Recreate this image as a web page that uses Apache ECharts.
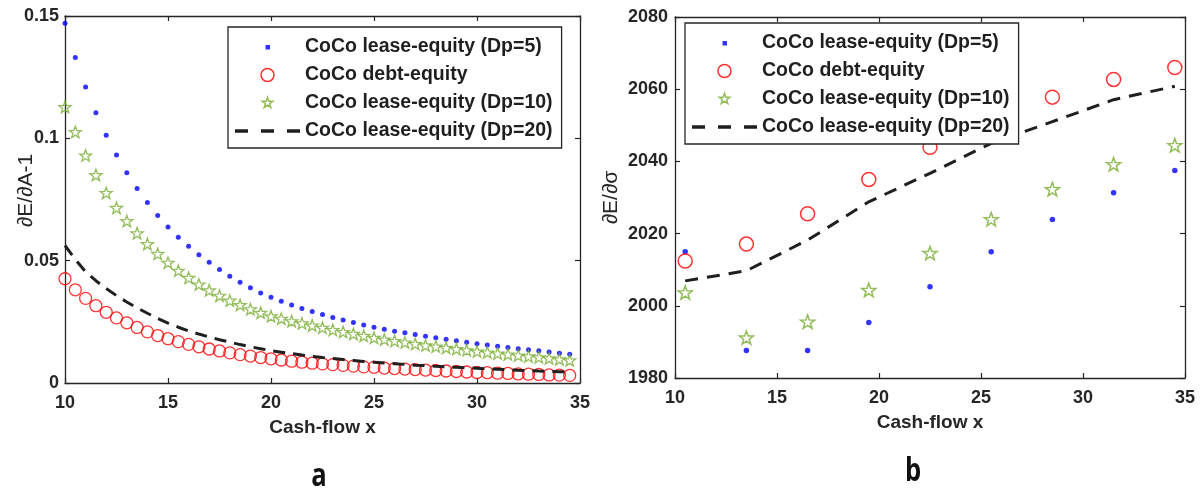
<!DOCTYPE html>
<html>
<head>
<meta charset="utf-8">
<script src="https://cdn.jsdelivr.net/npm/echarts@6/dist/echarts.min.js"></script>
<style>html,body{margin:0;padding:0;background:#fff;}#c{width:1202px;height:490px;}</style>
</head>
<body>
<div id="c"></div>
<script>
// ---------- data ----------
const namesLegend = ['CoCo lease-equity (Dp=5)', 'CoCo debt-equity', 'CoCo lease-equity (Dp=10)', 'CoCo lease-equity (Dp=20)'];
const panelLabels = ['a', 'b'];
const xAxisName = 'Cash-flow x';
const yAxisNames = ['∂E/∂A-1', '∂E/∂σ'];

// panel a
const xA = [10, 10.5, 11, 11.5, 12, 12.5, 13, 13.5, 14, 14.5, 15, 15.5, 16, 16.5, 17, 17.5, 18, 18.5, 19, 19.5,
  20, 20.5, 21, 21.5, 22, 22.5, 23, 23.5, 24, 24.5, 25, 25.5, 26, 26.5, 27, 27.5, 28, 28.5, 29, 29.5,
  30, 30.5, 31, 31.5, 32, 32.5, 33, 33.5, 34, 34.5];
const leaseDp5A = [0.147, 0.133, 0.121, 0.1105, 0.1013, 0.0932, 0.0859, 0.0795, 0.0738, 0.0685, 0.0638, 0.0596, 0.0559, 0.0524, 0.0494, 0.0464, 0.0436, 0.0412, 0.0389, 0.0368,
  0.0350, 0.0334, 0.0319, 0.0305, 0.0292, 0.0280, 0.0268, 0.0257, 0.0247, 0.0237, 0.0228, 0.0220, 0.0212, 0.0205, 0.0198, 0.0191, 0.0185, 0.0179, 0.0173, 0.0167,
  0.0160, 0.0155, 0.0150, 0.0145, 0.0140, 0.0136, 0.0132, 0.0127, 0.0122, 0.0117];
const debtA = [0.0426, 0.0381, 0.0346, 0.0316, 0.0289, 0.0266, 0.0246, 0.0227, 0.0209, 0.0194, 0.0181, 0.0169, 0.0158, 0.0148, 0.0139, 0.0131, 0.0123, 0.0116, 0.0110, 0.0104,
  0.0099, 0.0094, 0.0089, 0.0085, 0.0081, 0.0078, 0.0075, 0.0072, 0.0069, 0.0066, 0.0064, 0.0061, 0.0059, 0.0057, 0.0055, 0.0053, 0.0051, 0.0049, 0.0047, 0.0045,
  0.0043, 0.0042, 0.0040, 0.0039, 0.0037, 0.0036, 0.0035, 0.0033, 0.0032, 0.0031];
const leaseDp10A = [0.1128, 0.1026, 0.0930, 0.0850, 0.0777, 0.0716, 0.0662, 0.0612, 0.0568, 0.0528, 0.0492, 0.0459, 0.0430, 0.0403, 0.0379, 0.0357, 0.0337, 0.0319, 0.0302, 0.0287,
  0.0273, 0.0263, 0.0253, 0.0244, 0.0235, 0.0226, 0.0217, 0.0209, 0.0201, 0.0193, 0.0185, 0.0178, 0.0172, 0.0166, 0.0160, 0.0154, 0.0149, 0.0144, 0.0139, 0.0134,
  0.0129, 0.0125, 0.0121, 0.0117, 0.0113, 0.0109, 0.0105, 0.0101, 0.0097, 0.0093];
const leaseDp20A = [0.0562, 0.0505, 0.0455, 0.0418, 0.0386, 0.0357, 0.0331, 0.0307, 0.0285, 0.0264, 0.0245, 0.0228, 0.0213, 0.0200, 0.0188, 0.0177, 0.0167, 0.0157, 0.0148, 0.0140,
  0.0132, 0.0126, 0.0120, 0.0114, 0.0109, 0.0104, 0.0100, 0.0096, 0.0092, 0.0088, 0.0085, 0.0082, 0.0079, 0.0076, 0.0073, 0.0071, 0.0068, 0.0066, 0.0064, 0.0062,
  0.0060, 0.0058, 0.0056, 0.0054, 0.0052, 0.0051, 0.0049, 0.0048, 0.0046, 0.0045];

// panel b
const xB = [10.5, 13.5, 16.5, 19.5, 22.5, 25.5, 28.5, 31.5, 34.5];
const leaseDp5B = [2015.0, 1987.6, 1987.6, 1995.4, 2005.3, 2015.0, 2023.9, 2031.3, 2037.5];
const debtB = [2012.4, 2017.1, 2025.5, 2035.0, 2043.9, 2051.0, 2057.8, 2062.7, 2066.0];
const leaseDp10B = [2003.7, 1991.2, 1995.6, 2004.4, 2014.6, 2024.0, 2032.3, 2039.2, 2044.5];
const leaseDp20B = [2006.9, 2009.7, 2018.2, 2028.8, 2036.7, 2045.0, 2051.0, 2057.1, 2060.8];

// axis ticks
const xTicks = { min: 10, max: 35, interval: 5 };
const yTicksA = { min: 0, max: 0.15, interval: 0.05 };
const yTicksB = { min: 1980, max: 2080, interval: 20 };

// ---------- styling ----------
const FONT = '"Liberation Sans", Arial, sans-serif';
const AX = '#262626';
const BLUE = '#0000ff', RED = '#ff0000', GREEN = '#77ac30', DARK = '#1f1f1f';
const STAR = 'path://M50,0L61.76,33.82L97.55,34.55L69.02,56.18L79.39,90.45L50,70L20.61,90.45L30.98,56.18L2.45,34.55L38.24,33.82Z';
const ICON_DOT = 'path://M0,0M14,14M5,5H9.5V9.5H5Z';
const ICON_CIRCLE = 'path://M0,0M14,14M7,0.5A6.5,6.5,0,1,1,7,13.5A6.5,6.5,0,1,1,7,0.5Z';
const ICON_STAR = 'path://M-12,-12M112,112M50,0L61.76,33.82L97.55,34.55L69.02,56.18L79.39,90.45L50,70L20.61,90.45L30.98,56.18L2.45,34.55L38.24,33.82Z';
const ICON_DASH = 'path://M0,0M65,14M0,5.25H13V8.75H0ZM26,5.25H39V8.75H26ZM52,5.25H65V8.75H52Z';

function zip(xs, ys) { return xs.map((x, i) => [x, ys[i]]); }

function axisCommon(extra) {
  return Object.assign({
    type: 'value',
    axisLine: { show: true, onZero: false, lineStyle: { color: AX, width: 1.3 } },
    axisTick: { show: true, inside: true, length: 5, lineStyle: { color: AX, width: 1.2 } },
    splitLine: { show: false },
    nameMoveOverlap: false,
    axisLabel: { color: AX, fontFamily: FONT, fontWeight: 'bold', fontSize: 18 }
  }, extra);
}

function legendFor(left, top) {
  return {
    orient: 'vertical', left: left, top: top,
    padding: [10, 9, 7, 7],
    itemWidth: 65, itemHeight: 14, itemGap: 8,
    backgroundColor: '#fff', borderColor: AX, borderWidth: 1.3,
    selectedMode: false,
    textStyle: { fontFamily: FONT, fontWeight: 'bold', fontSize: 19.5, color: DARK, lineHeight: 18 },
    data: [
      { name: namesLegend[0], icon: ICON_DOT, itemStyle: { color: BLUE, borderWidth: 0 } },
      { name: namesLegend[1], icon: ICON_CIRCLE, itemStyle: { color: 'rgba(0,0,0,0)', borderColor: RED, borderWidth: 1.5 } },
      { name: namesLegend[2], icon: ICON_STAR, itemStyle: { color: 'rgba(0,0,0,0)', borderColor: GREEN, borderWidth: 1.5 } },
      { name: namesLegend[3], icon: ICON_DASH, itemStyle: { color: DARK, borderWidth: 0 } }
    ]
  };
}

const tickLabel = (margin) => ({ color: AX, fontFamily: FONT, fontWeight: 'bold', fontSize: 18, margin: margin, formatter: (v) => String(+v.toFixed(4)) });
const nameStyleX = { color: AX, fontFamily: FONT, fontWeight: 'bold', fontSize: 19 };

const chart = echarts.init(document.getElementById('c'), null, { renderer: 'canvas' });

const option = {
  backgroundColor: '#fff',
  animation: false,
  graphic: [
    { type: 'text', x: 319, y: 477, scaleX: 0.8, silent: true,
      style: { text: panelLabels[0], font: 'bold 32px "Open Sans", sans-serif', fill: '#111', align: 'center', verticalAlign: 'middle' } },
    { type: 'text', x: 913, y: 472, scaleX: 0.8, silent: true,
      style: { text: panelLabels[1], font: 'bold 32px "Open Sans", sans-serif', fill: '#111', align: 'center', verticalAlign: 'middle' } }
  ],
  grid: [
    { left: 65, top: 16, width: 515, height: 367 },
    { left: 675, top: 17, width: 510, height: 361 }
  ],
  legend: [legendFor(228, 27), legendFor(685, 23)],
  xAxis: [
    axisCommon(Object.assign({ gridIndex: 0, position: 'bottom',
      name: xAxisName, nameLocation: 'middle', nameGap: 35, nameTextStyle: nameStyleX }, xTicks,
      { axisLabel: tickLabel(11) })),
    axisCommon(Object.assign({ gridIndex: 0, position: 'top', axisLabel: { show: false } }, xTicks)),
    axisCommon(Object.assign({ gridIndex: 1, position: 'bottom',
      name: xAxisName, nameLocation: 'middle', nameGap: 35, nameTextStyle: nameStyleX }, xTicks,
      { axisLabel: tickLabel(11) })),
    axisCommon(Object.assign({ gridIndex: 1, position: 'top', axisLabel: { show: false } }, xTicks))
  ],
  yAxis: [
    axisCommon(Object.assign({ gridIndex: 0, position: 'left',
      name: yAxisNames[0], nameLocation: 'middle', nameGap: 28, nameRotate: 90,
      nameTextStyle: { color: AX, fontFamily: FONT, fontSize: 21, padding: [0, 0, 0, 18] } }, yTicksA,
      { axisLabel: tickLabel(6) })),
    axisCommon(Object.assign({ gridIndex: 0, position: 'right', axisLabel: { show: false } }, yTicksA)),
    axisCommon(Object.assign({ gridIndex: 1, position: 'left',
      name: yAxisNames[1], nameLocation: 'middle', nameGap: 53, nameRotate: 90,
      nameTextStyle: { color: AX, fontFamily: FONT, fontSize: 21 } }, yTicksB,
      { axisLabel: tickLabel(7) })),
    axisCommon(Object.assign({ gridIndex: 1, position: 'right', axisLabel: { show: false } }, yTicksB))
  ],
  series: [
    // panel a
    { name: namesLegend[0], type: 'scatter', xAxisIndex: 0, yAxisIndex: 0, data: zip(xA, leaseDp5A),
      symbol: 'circle', symbolSize: 5, itemStyle: { color: BLUE } },
    { name: namesLegend[1], type: 'scatter', xAxisIndex: 0, yAxisIndex: 0, data: zip(xA, debtA),
      symbol: 'circle', symbolSize: 12, itemStyle: { color: 'rgba(0,0,0,0)', borderColor: RED, borderWidth: 1.3 } },
    { name: namesLegend[2], type: 'scatter', xAxisIndex: 0, yAxisIndex: 0, data: zip(xA, leaseDp10A),
      symbol: STAR, symbolKeepAspect: true, symbolSize: 12, itemStyle: { color: 'rgba(0,0,0,0)', borderColor: GREEN, borderWidth: 1.3 } },
    { name: namesLegend[3], type: 'line', xAxisIndex: 0, yAxisIndex: 0, data: zip(xA, leaseDp20A),
      showSymbol: false, symbol: 'none', lineStyle: { color: DARK, width: 3, type: [12, 8] }, itemStyle: { color: DARK } },
    // panel b
    { name: namesLegend[0], type: 'scatter', xAxisIndex: 2, yAxisIndex: 2, data: zip(xB, leaseDp5B),
      symbol: 'circle', symbolSize: 5.5, itemStyle: { color: BLUE } },
    { name: namesLegend[1], type: 'scatter', xAxisIndex: 2, yAxisIndex: 2, data: zip(xB, debtB),
      symbol: 'circle', symbolSize: 14, itemStyle: { color: 'rgba(0,0,0,0)', borderColor: RED, borderWidth: 1.5 } },
    { name: namesLegend[2], type: 'scatter', xAxisIndex: 2, yAxisIndex: 2, data: zip(xB, leaseDp10B),
      symbol: STAR, symbolKeepAspect: true, symbolSize: 14, itemStyle: { color: 'rgba(0,0,0,0)', borderColor: GREEN, borderWidth: 1.5 } },
    { name: namesLegend[3], type: 'line', xAxisIndex: 2, yAxisIndex: 2, data: zip(xB, leaseDp20B),
      showSymbol: false, symbol: 'none', lineStyle: { color: DARK, width: 3, type: [13, 9] }, itemStyle: { color: DARK } }
  ]
};
chart.setOption(option);
</script>
</body>
</html>
